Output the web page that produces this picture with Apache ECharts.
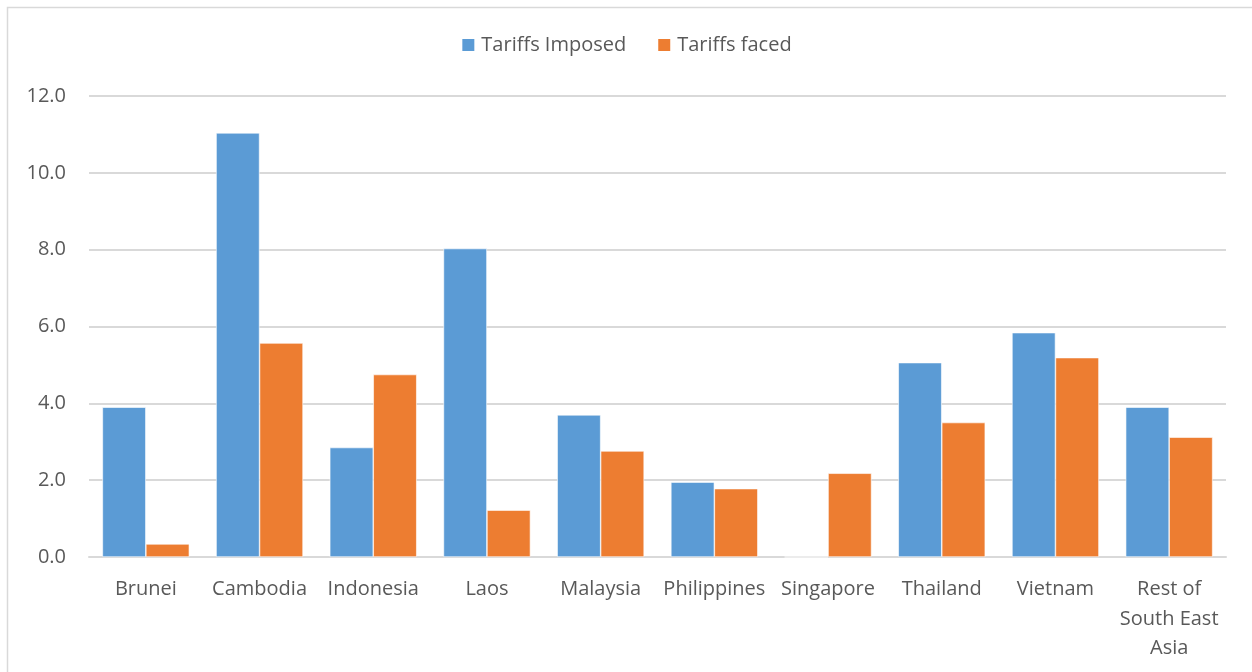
<!DOCTYPE html>
<html>
<head>
<meta charset="utf-8">
<script src="https://cdn.jsdelivr.net/npm/echarts@6/dist/echarts.min.js"></script>
<style>html,body{margin:0;padding:0;background:#fff}#c{width:1252px;height:672px}</style>
</head>
<body>
<div id="c"></div>
<script>
const categories = ['Brunei','Cambodia','Indonesia','Laos','Malaysia','Philippines','Singapore','Thailand','Vietnam','Rest of\nSouth East\nAsia'];
const tariffsImposed = [3.9, 11.04, 2.85, 8.03, 3.7, 1.95, 0, 5.06, 5.84, 3.9];
const tariffsFaced = [0.34, 5.57, 4.75, 1.22, 2.76, 1.78, 2.18, 3.5, 5.19, 3.12];
const yTicks = [0, 2, 4, 6, 8, 10, 12];

const FONT = 'Open Sans';
const chart = echarts.init(document.getElementById('c'));
chart.setOption({
  animation: false,
  backgroundColor: '#fff',
  textStyle: { fontFamily: FONT },
  graphic: [{
    type: 'rect', left: 5, top: 5, silent: true,
    shape: { width: 1260, height: 680 },
    style: { fill: 'none', stroke: '#d9d9d9', lineWidth: 1.5 }
  }],
  legend: {
    top: 30, left: 'center', itemWidth: 14, itemHeight: 14, itemGap: 30,
    textStyle: { fontFamily: FONT, fontSize: 20, color: '#595959', padding: [0, 0, 0, 1] },
    icon: 'rect',
    data: ['Tariffs Imposed', 'Tariffs faced']
  },
  grid: { left: 89, right: 26, top: 96, bottom: 115, containLabel: false },
  xAxis: {
    type: 'category', data: categories,
    axisTick: { show: false },
    axisLine: { lineStyle: { color: '#d9d9d9', width: 2 } },
    axisLabel: { interval: 0, color: '#595959', fontFamily: FONT, fontSize: 20, lineHeight: 29.5, margin: 18 }
  },
  yAxis: {
    type: 'value', min: yTicks[0], max: yTicks[yTicks.length - 1], interval: 2,
    axisLine: { show: false }, axisTick: { show: false },
    splitLine: { lineStyle: { color: '#d9d9d9', width: 2 } },
    axisLabel: { color: '#595959', fontFamily: FONT, fontSize: 20, margin: 23,
      formatter: v => v.toFixed(1) }
  },
  series: [
    { name: 'Tariffs Imposed', type: 'bar', data: tariffsImposed, barGap: '0%', barCategoryGap: '23.5%',
      itemStyle: { color: '#5b9bd5', borderColor: '#fff', borderWidth: 0.6 } },
    { name: 'Tariffs faced', type: 'bar', data: tariffsFaced,
      itemStyle: { color: '#ed7d31', borderColor: '#fff', borderWidth: 0.6 } }
  ]
});
</script>
</body>
</html>
